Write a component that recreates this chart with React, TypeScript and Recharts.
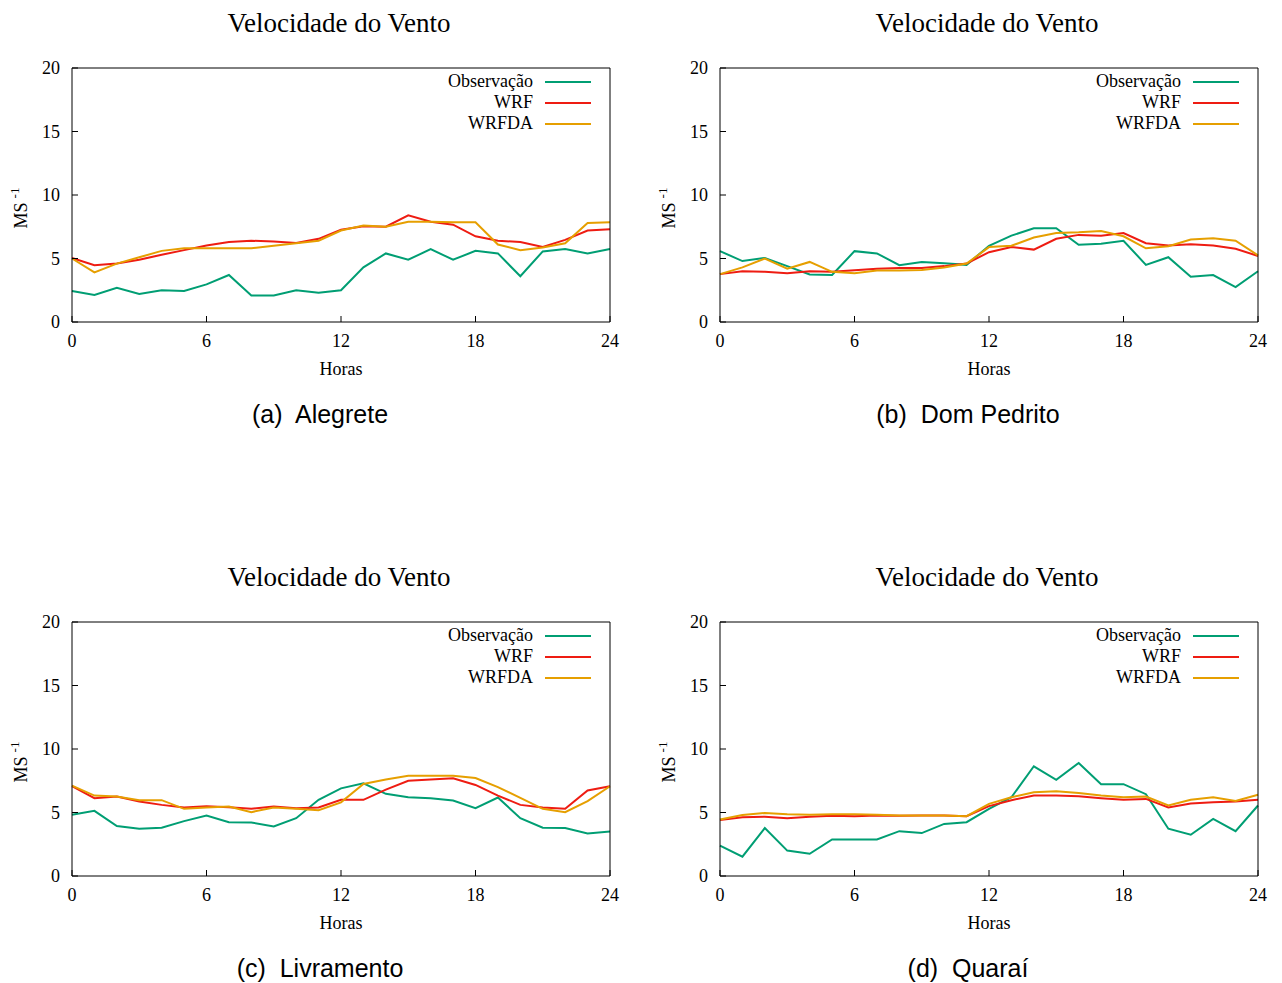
import { LineChart, Line, XAxis, YAxis, Legend, Label } from "recharts";

const hours = [0, 1, 2, 3, 4, 5, 6, 7, 8, 9, 10, 11, 12, 13, 14, 15, 16, 17, 18, 19, 20, 21, 22, 23, 24];
const hourTicks = [0, 6, 12, 18, 24];
const speedTicks = [0, 5, 10, 15, 20];

const alegreteObs = [2.44, 2.13, 2.7, 2.2, 2.5, 2.44, 2.96, 3.7, 2.08, 2.08, 2.5, 2.3, 2.5, 4.3, 5.4, 4.9, 5.74, 4.9, 5.6, 5.4, 3.6, 5.56, 5.74, 5.4, 5.74];
const alegreteWrf = [5.04, 4.47, 4.6, 4.9, 5.3, 5.66, 6.03, 6.3, 6.4, 6.34, 6.23, 6.55, 7.27, 7.53, 7.5, 8.4, 7.9, 7.66, 6.75, 6.4, 6.3, 5.9, 6.47, 7.2, 7.3];
const alegreteWrfda = [5.0, 3.9, 4.6, 5.1, 5.6, 5.8, 5.8, 5.8, 5.8, 6.0, 6.2, 6.4, 7.2, 7.6, 7.5, 7.9, 7.9, 7.85, 7.85, 6.1, 5.66, 5.87, 6.2, 7.8, 7.85];

const domPedritoObs = [5.58, 4.8, 5.04, 4.4, 3.74, 3.7, 5.58, 5.4, 4.47, 4.73, 4.62, 4.5, 6.0, 6.8, 7.38, 7.38, 6.08, 6.16, 6.4, 4.5, 5.1, 3.56, 3.7, 2.75, 4.0];
const domPedritoWrf = [3.77, 4.0, 3.95, 3.84, 4.0, 3.95, 4.08, 4.2, 4.26, 4.26, 4.4, 4.6, 5.5, 5.9, 5.7, 6.55, 6.86, 6.8, 7.0, 6.2, 6.03, 6.13, 6.03, 5.77, 5.2];
const domPedritoWrfda = [3.77, 4.3, 5.0, 4.2, 4.73, 3.95, 3.84, 4.05, 4.05, 4.1, 4.3, 4.6, 5.9, 6.0, 6.65, 7.0, 7.06, 7.17, 6.75, 5.8, 5.97, 6.5, 6.6, 6.4, 5.25];

const livramentoObs = [4.82, 5.13, 3.93, 3.72, 3.8, 4.32, 4.76, 4.24, 4.21, 3.9, 4.55, 6.0, 6.9, 7.3, 6.47, 6.2, 6.13, 5.94, 5.34, 6.18, 4.55, 3.8, 3.77, 3.35, 3.5];
const livramentoWrf = [7.07, 6.13, 6.26, 5.86, 5.6, 5.4, 5.5, 5.42, 5.29, 5.47, 5.34, 5.4, 6.0, 6.0, 6.8, 7.5, 7.6, 7.7, 7.17, 6.33, 5.6, 5.4, 5.29, 6.73, 7.07];
const livramentoWrfda = [7.12, 6.33, 6.26, 5.97, 5.97, 5.29, 5.4, 5.47, 5.03, 5.4, 5.29, 5.18, 5.8, 7.25, 7.6, 7.9, 7.9, 7.9, 7.72, 7.0, 6.15, 5.29, 5.03, 5.9, 7.07];

const quaraiObs = [2.4, 1.52, 3.77, 2.0, 1.75, 2.88, 2.88, 2.88, 3.53, 3.38, 4.1, 4.24, 5.29, 6.2, 8.64, 7.57, 8.9, 7.23, 7.23, 6.44, 3.72, 3.25, 4.5, 3.53, 5.55];
const quaraiWrf = [4.4, 4.63, 4.66, 4.55, 4.66, 4.74, 4.71, 4.76, 4.74, 4.76, 4.76, 4.71, 5.5, 5.97, 6.33, 6.33, 6.28, 6.13, 6.0, 6.07, 5.4, 5.7, 5.8, 5.86, 6.0];
const quaraiWrfda = [4.45, 4.8, 4.97, 4.87, 4.82, 4.87, 4.87, 4.82, 4.76, 4.76, 4.76, 4.71, 5.68, 6.2, 6.6, 6.68, 6.54, 6.33, 6.2, 6.26, 5.55, 6.0, 6.2, 5.9, 6.4];

const SERIF = '"Liberation Serif", "Times New Roman", serif';
const SANS = '"Liberation Sans", Arial, sans-serif';
const OBS_COLOR = "#009e73";
const WRF_COLOR = "#ee1c12";
const WRFDA_COLOR = "#e69f00";

const panels = [
  { caption: "(a)  Alegrete", left: 0, top: 0, obs: alegreteObs, wrf: alegreteWrf, wrfda: alegreteWrfda },
  { caption: "(b)  Dom Pedrito", left: 648, top: 0, obs: domPedritoObs, wrf: domPedritoWrf, wrfda: domPedritoWrfda },
  { caption: "(c)  Livramento", left: 0, top: 554, obs: livramentoObs, wrf: livramentoWrf, wrfda: livramentoWrfda },
  { caption: "(d)  Quaraí", left: 648, top: 554, obs: quaraiObs, wrf: quaraiWrf, wrfda: quaraiWrfda },
];

function renderLegend(props: any) {
  const items = props.payload || [];
  return (
    <div>
      {items.map((item: any) => (
        <div
          key={item.value}
          style={{ display: "flex", alignItems: "center", justifyContent: "flex-end", height: 21 }}
        >
          <span style={{ fontFamily: SERIF, fontSize: 18, color: "#000", lineHeight: "21px" }}>{item.value}</span>
          <svg width={46} height={4} style={{ marginLeft: 12 }}>
            <line x1={0} y1={2} x2={46} y2={2} stroke={item.color} strokeWidth={2} />
          </svg>
        </div>
      ))}
    </div>
  );
}

// "MS" with a raised "-1", rotated like gnuplot's ylabel
function YUnitLabel(props: any) {
  const vb = props.viewBox || { y: 0, height: 0 };
  const cy = vb.y + vb.height / 2 + 13;
  return (
    <text transform={`translate(27, ${cy}) rotate(-90)`} textAnchor="middle" fontFamily={SERIF} fontSize={18} fill="#000">
      MS
      <tspan dx={4} dy={-8} fontSize={13}>
        -1
      </tspan>
    </text>
  );
}

function Panel({ p }: { p: (typeof panels)[number] }) {
  const rows = hours.map((h, i) => ({ hora: h, obs: p.obs[i], wrf: p.wrf[i], wrfda: p.wrfda[i] }));
  const tickStyle = { fill: "#000", fontSize: 18, fontFamily: SERIF };
  return (
    <div style={{ position: "absolute", left: p.left, top: p.top, width: 640, height: 430 }}>
      <div
        style={{
          position: "absolute",
          left: 70,
          width: 538,
          top: 8,
          lineHeight: "30px",
          textAlign: "center",
          fontFamily: SERIF,
          fontSize: 27,
        }}
      >
        Velocidade do Vento
      </div>
      <LineChart width={640} height={400} data={rows} margin={{ top: 67, right: 29, bottom: 0, left: 0 }}>
        <XAxis
          dataKey="hora"
          type="number"
          domain={[0, 24]}
          ticks={hourTicks}
          interval={0}
          height={78}
          tickSize={-6}
          tickMargin={18}
          stroke="#000"
          tick={tickStyle}
        >
          <Label value="Horas" position="insideTop" offset={40} fill="#000" fontFamily={SERIF} fontSize={18} />
        </XAxis>
        <XAxis
          xAxisId="top"
          orientation="top"
          dataKey="hora"
          type="number"
          domain={[0, 24]}
          ticks={hourTicks}
          interval={0}
          height={1}
          tickSize={-6}
          stroke="#000"
          tick={false}
        />
        <YAxis
          type="number"
          domain={[0, 20]}
          ticks={speedTicks}
          interval={0}
          width={72}
          tickSize={-6}
          tickMargin={18}
          stroke="#000"
          tick={tickStyle}
          label={<YUnitLabel />}
        />
        <YAxis
          yAxisId="right"
          orientation="right"
          type="number"
          domain={[0, 20]}
          ticks={speedTicks}
          interval={0}
          width={1}
          tickSize={-6}
          stroke="#000"
          tick={false}
        />
        <Legend
          layout="vertical"
          align="center"
          verticalAlign="middle"
          wrapperStyle={{ top: 71, right: 49, left: "auto", width: "auto" }}
          content={renderLegend}
        />
        <Line type="linear" dataKey="obs" name="Observação" stroke={OBS_COLOR} strokeWidth={2} dot={false} isAnimationActive={false} />
        <Line type="linear" dataKey="wrf" name="WRF" stroke={WRF_COLOR} strokeWidth={2} dot={false} isAnimationActive={false} />
        <Line type="linear" dataKey="wrfda" name="WRFDA" stroke={WRFDA_COLOR} strokeWidth={2} dot={false} isAnimationActive={false} />
      </LineChart>
      <div
        style={{
          position: "absolute",
          left: 0,
          width: 640,
          top: 398,
          lineHeight: "32px",
          textAlign: "center",
          fontFamily: SANS,
          fontSize: 25,
          whiteSpace: "pre",
        }}
      >
        {p.caption}
      </div>
    </div>
  );
}

export default function App() {
  return (
    <div style={{ position: "absolute", left: 0, top: 0, width: 1282, height: 983, background: "#fff" }}>
      {panels.map((p) => (
        <Panel key={p.caption} p={p} />
      ))}
    </div>
  );
}
